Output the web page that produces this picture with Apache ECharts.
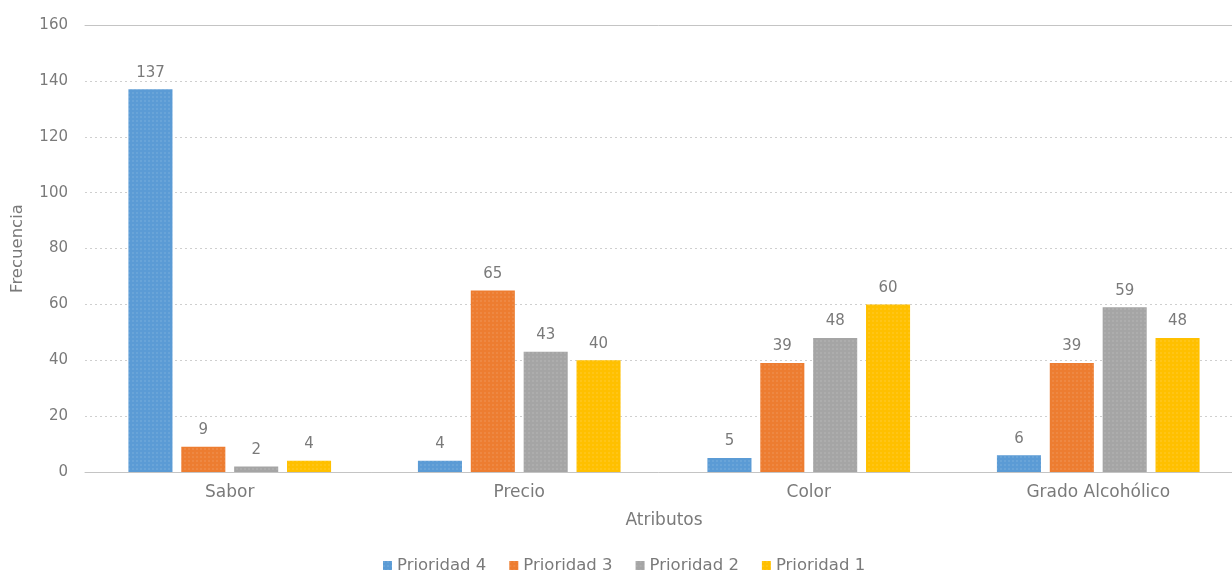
<!DOCTYPE html>
<html>
<head>
<meta charset="utf-8">
<title>Frecuencia por atributo</title>
<script src="https://cdn.jsdelivr.net/npm/echarts@6.0.0/dist/echarts.min.js"></script>
<style>
  body { margin: 0; background: #fff; }
  #chart { width: 1232px; height: 572px; }
</style>
</head>
<body>
<div id="chart"></div>
<script>
// datos
var categorias = ['Sabor', 'Precio', 'Color', 'Grado Alcohólico'];
var prioridad4 = [137, 4, 5, 6];
var prioridad3 = [9, 65, 39, 39];
var prioridad2 = [2, 43, 48, 59];
var prioridad1 = [4, 40, 60, 48];
var nombres = ['Prioridad 4', 'Prioridad 3', 'Prioridad 2', 'Prioridad 1'];
var colores = ['#5b9bd5', '#ed7d31', '#a5a5a5', '#ffc000'];

var gris = '#7a7a7a';
var chart = echarts.init(document.getElementById('chart'));

function serie(i, datos) {
  return {
    name: nombres[i],
    type: 'bar',
    data: datos,
    barGap: '20%',
    barCategoryGap: '30%',
    itemStyle: {
      color: colores[i],
      decal: {
        symbol: 'rect',
        symbolSize: 0.6,
        dashArrayX: [2, 2],
        dashArrayY: [2, 2],
        color: 'rgba(255,255,255,0.3)'
      }
    },
    label: {
      show: true,
      position: 'top',
      distance: 9,
      color: gris,
      fontSize: 15
    }
  };
}

chart.setOption({
  textStyle: { fontFamily: 'DejaVu Sans, sans-serif' },
  grid: { left: 85, right: -11, top: 25, bottom: 100, outerBoundsMode: 'none', containLabel: false },
  legend: {
    top: 552,
    left: 378,
    icon: 'rect',
    itemWidth: 9,
    itemHeight: 9,
    itemGap: 23,
    textStyle: { color: gris, fontSize: 16.5 },
    data: nombres
  },
  xAxis: [{
    type: 'category',
    data: categorias,
    name: 'Atributos',
    nameLocation: 'middle',
    nameGap: 40,
    nameTextStyle: { color: gris, fontSize: 17 },
    axisTick: { show: false },
    axisLine: { lineStyle: { color: '#c4c4c4', width: 1 } },
    axisLabel: { color: gris, fontSize: 17, margin: 12 }
  }, {
    // linea superior continua (160)
    type: 'category',
    position: 'top',
    data: categorias,
    axisTick: { show: false },
    axisLabel: { show: false },
    axisLine: { lineStyle: { color: '#c4c4c4', width: 1 } }
  }],
  yAxis: {
    type: 'value',
    min: 0,
    max: 160,
    interval: 20,
    name: 'Frecuencia',
    nameLocation: 'middle',
    nameGap: 59,
    nameTextStyle: { color: gris, fontSize: 16.5 },
    axisLine: { show: false },
    axisTick: { show: false },
    axisLabel: { color: gris, fontSize: 15, margin: 17 },
    splitLine: {
      lineStyle: { color: '#cfcfcf', type: [2, 3], width: 1 }
    }
  },
  series: [
    serie(0, prioridad4),
    serie(1, prioridad3),
    serie(2, prioridad2),
    serie(3, prioridad1)
  ]
});
</script>
</body>
</html>
